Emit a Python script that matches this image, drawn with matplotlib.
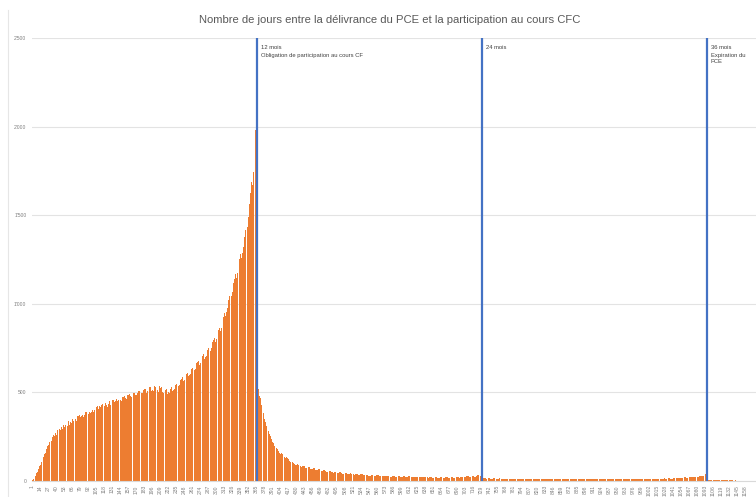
import matplotlib
matplotlib.use("Agg")
import matplotlib.pyplot as plt
import numpy as np

# ---- data: number of participants per day between PCE delivery and CFC course ----
counts_year1 = [
    3, 7, 12, 18, 24, 31, 38, 45, 52, 60, 68, 75, 84, 92,
    100, 108, 117, 125, 133, 141, 150, 160, 170, 178, 186, 196, 204, 212,
    220, 229, 236, 226, 244, 250, 257, 263, 252, 268, 273, 262, 280, 285,
    290, 276, 296, 301, 290, 306, 311, 296, 313, 318, 303, 320, 314, 324,
    326, 311, 330, 336, 318, 341, 333, 346, 327, 350, 342, 336, 356, 347,
    352, 361, 340, 366, 357, 369, 349, 372, 362, 379, 364, 370, 383, 360,
    386, 374, 389, 369, 392, 380, 396, 377, 399, 390, 384, 403, 392, 406,
    398, 387, 411, 400, 413, 394, 419, 405, 421, 409, 399, 426, 414, 418,
    429, 409, 433, 420, 437, 424, 414, 441, 430, 443, 419, 446, 437, 449,
    440, 429, 453, 444, 456, 437, 459, 447, 461, 449, 439, 463, 454, 466,
    457, 444, 469, 459, 471, 454, 473, 464, 476, 459, 479, 469, 481, 464,
    483, 474, 486, 469, 489, 479, 491, 474, 493, 484, 496, 477, 499, 487,
    501, 484, 503, 494, 506, 489, 509, 497, 511, 494, 513, 499, 516, 497,
    519, 503, 521, 499, 523, 509, 526, 504, 529, 511, 531, 507, 533, 514,
    535, 509, 538, 515, 530, 505, 540, 512, 528, 500, 536, 510, 524, 498,
    530, 505, 518, 495, 526, 420, 512, 498, 520, 492, 515, 500, 524, 496,
    519, 503, 528, 507, 522, 512, 535, 518, 540, 524, 548, 530, 556, 537,
    562, 543, 570, 550, 578, 556, 585, 562, 592, 570, 598, 578, 605, 584,
    612, 590, 618, 597, 625, 603, 632, 610, 640, 617, 648, 624, 656, 632,
    664, 640, 672, 648, 680, 655, 688, 664, 696, 672, 705, 680, 714, 690,
    722, 698, 732, 706, 742, 716, 752, 726, 762, 736, 772, 748, 784, 760,
    796, 772, 808, 786, 822, 800, 836, 814, 850, 830, 866, 846, 884, 864,
    904, 884, 926, 906, 950, 930, 976, 954, 1000, 978, 1024, 1002, 1046, 1024,
    1066, 1044, 1090, 1068, 1116, 1094, 1142, 1120, 1170, 1146, 1198, 1172, 1226, 1200,
    1252, 1228, 1280, 1256, 1310, 1286, 1340, 1318, 1375, 1352, 1415, 1392, 1460, 1436,
    1510, 1488, 1565, 1545, 1625, 1608, 1690, 1672, 1760, 1745, 1830, 1920, 1980, 1890,
    1860,
]
counts_year2 = [
    560, 740, 520, 500, 482, 468, 452, 430, 405, 440, 385, 362, 350,
    332, 342, 312, 300, 291, 280, 272, 266, 252, 246, 236, 228, 221, 214,
    210, 198, 200, 186, 188, 176, 180, 168, 172, 160, 165, 154, 158, 147,
    150, 141, 146, 135, 139, 128, 134, 123, 128, 117, 122, 112, 116, 108,
    112, 103, 108, 99, 104, 95, 101, 92, 98, 89, 95, 87, 93, 85,
    91, 83, 89, 81, 87, 79, 85, 77, 83, 76, 81, 74, 80, 72,
    78, 71, 77, 69, 76, 68, 74, 67, 72, 65, 71, 64, 69, 62,
    68, 61, 67, 60, 65, 59, 64, 58, 63, 56, 61, 55, 60, 54,
    59, 53, 58, 52, 57, 51, 56, 50, 55, 49, 54, 48, 53, 47,
    52, 46, 51, 45, 50, 44, 49, 44, 48, 43, 48, 42, 47, 42,
    46, 41, 46, 40, 45, 40, 44, 39, 44, 39, 43, 38, 43, 38,
    42, 37, 42, 37, 41, 36, 41, 36, 40, 35, 40, 35, 39, 34,
    39, 34, 38, 33, 38, 33, 37, 32, 37, 32, 36, 31, 36, 31,
    35, 31, 35, 30, 34, 30, 34, 29, 34, 29, 33, 29, 33, 28,
    33, 28, 32, 28, 32, 27, 32, 27, 31, 27, 31, 27, 31, 26,
    31, 26, 30, 26, 30, 26, 30, 25, 30, 25, 29, 25, 29, 25,
    29, 25, 29, 24, 28, 24, 28, 24, 28, 24, 28, 23, 27, 23,
    27, 23, 27, 23, 27, 22, 26, 22, 26, 22, 26, 22, 26, 22,
    26, 21, 25, 21, 25, 21, 25, 21, 25, 21, 25, 21, 24, 20,
    24, 20, 24, 20, 24, 20, 24, 20, 24, 20, 23, 20, 23, 19,
    23, 19, 23, 19, 23, 19, 23, 19, 22, 19, 22, 19, 22, 19,
    22, 18, 22, 18, 22, 18, 22, 18, 22, 18, 22, 18, 22, 18,
    22, 18, 23, 18, 22, 19, 23, 18, 22, 19, 23, 19, 23, 19,
    23, 19, 24, 19, 23, 20, 24, 19, 24, 20, 24, 20, 25, 20,
    25, 20, 25, 21, 26, 21, 26, 21, 27, 22, 27, 22, 28, 23,
    28, 23, 29, 24, 30, 25, 31, 26, 32, 27, 33, 29, 35, 31,
    38, 36,
]
counts_year3 = [
    17, 15, 16, 14, 16, 15, 17, 14, 16, 15, 16, 14,
    16, 14, 15, 13, 15, 14, 16, 13, 15, 14, 15, 13, 15, 13,
    14, 13, 15, 12, 14, 13, 14, 12, 14, 13, 14, 12, 14, 12,
    13, 12, 14, 11, 13, 12, 13, 11, 13, 12, 13, 11, 13, 11,
    13, 11, 13, 11, 13, 11, 12, 11, 13, 10, 12, 11, 12, 10,
    12, 11, 12, 10, 12, 11, 12, 10, 12, 11, 12, 10, 12, 10,
    12, 10, 12, 10, 12, 10, 11, 10, 12, 10, 11, 10, 12, 9,
    11, 10, 12, 9, 11, 10, 11, 9, 11, 10, 12, 9, 11, 10,
    11, 9, 12, 10, 11, 9, 11, 10, 12, 9, 11, 10, 11, 9,
    12, 10, 11, 9, 11, 10, 12, 9, 11, 10, 11, 9, 12, 10,
    11, 9, 11, 10, 12, 9, 11, 10, 11, 9, 12, 10, 11, 9,
    11, 10, 12, 9, 11, 10, 11, 9, 12, 10, 11, 9, 11, 10,
    12, 9, 11, 10, 11, 9, 12, 10, 11, 9, 11, 10, 12, 9,
    11, 10, 11, 9, 12, 10, 11, 9, 11, 10, 12, 9, 11, 10,
    11, 9, 12, 10, 11, 9, 11, 10, 12, 9, 11, 10, 11, 9,
    12, 10, 11, 9, 11, 10, 12, 9, 11, 10, 11, 9, 12, 10,
    11, 9, 11, 10, 12, 9, 11, 10, 11, 9, 12, 10, 11, 9,
    11, 10, 12, 9, 11, 10, 11, 9, 12, 10, 11, 9, 11, 10,
    12, 9, 11, 10, 11, 9, 12, 10, 11, 9, 11, 10, 12, 9,
    11, 10, 11, 9, 12, 10, 11, 10, 12, 10, 12, 10, 12, 10,
    12, 10, 12, 11, 13, 11, 13, 11, 13, 11, 13, 12, 14, 12,
    14, 12, 14, 12, 15, 12, 15, 13, 15, 13, 16, 13, 16, 14,
    16, 14, 17, 14, 17, 15, 17, 15, 18, 15, 18, 16, 18, 16,
    19, 16, 19, 17, 19, 17, 20, 17, 20, 18, 21, 18, 21, 19,
    22, 19, 22, 20, 23, 20, 23, 21, 24, 21, 25, 22, 25, 23,
    26, 23, 27, 24, 28, 25, 29, 26, 30, 28, 32, 30, 36, 33,
    42, 38, 45,
]
counts_after = [
    6, 5, 6, 5, 5, 6, 5, 5, 4, 5, 5, 4, 5, 4,
    4, 5, 4, 4, 5, 4, 4, 3, 4, 4, 3, 4, 3, 4,
    3, 3, 4, 3, 3, 3, 4, 3, 3, 2, 3, 3, 2, 3,
    2, 3, 2, 2, 3, 2, 2, 2, 3, 2, 2, 2, 1, 2,
    2, 1, 2, 1, 1, 2, 1, 1, 1, 1, 1, 0, 1, 0,
]

counts = counts_year1 + counts_year2 + counts_year3 + counts_after
days = list(range(1, len(counts) + 1))

milestone_days = [365, 730, 1095]
milestone_titles = ["12 mois", "24 mois", "36 mois"]
milestone_notes = ["Obligation de participation au cours CF", "", "Expiration du\nPCE"]

y_ticks = [0, 500, 1000, 1500, 2000, 2500]
x_label_step = 13

title = "Nombre de jours entre la délivrance du PCE et la participation au cours CFC"

# ---- figure ----
W, H = 756, 497
fig = plt.figure(figsize=(W / 100, H / 100), dpi=100)
ax = fig.add_axes([32 / W, 1 - 481 / H, 724 / W, (481 - 38) / H])

ax.bar(days, counts, width=0.88, color="#ED7D31", linewidth=0, zorder=2,
       antialiased=False)
ax.vlines(milestone_days, 0, y_ticks[-1], colors="#4472C4", linewidth=1.6, zorder=3)

for d, t, n in zip(milestone_days, milestone_titles, milestone_notes):
    ax.annotate(t, xy=(d, y_ticks[-1]), xytext=(3, -7), textcoords="offset points",
                fontsize=4.2, color="#404040", va="center", ha="left",
                family="Liberation Sans", annotation_clip=False)
    if n:
        ax.annotate(n, xy=(d, y_ticks[-1]), xytext=(3, -10.5), textcoords="offset points",
                    fontsize=4.2, color="#404040", va="top", ha="left",
                    family="Liberation Sans", annotation_clip=False,
                    linespacing=1.3)

ax.set_xlim(0.5, 0.5 + 724 / 0.6164)
ax.set_ylim(0, y_ticks[-1])
ax.set_yticks(y_ticks)
ax.set_yticklabels([f"{v:,}".replace(",", "'") for v in y_ticks],
                   fontsize=3.6, color="#7F7F7F", family="Liberation Sans")
ax.tick_params(axis="y", length=0, pad=4)

xt = days[::x_label_step]
ax.set_xticks(xt)
ax.set_xticklabels([str(d) for d in xt], rotation=90, fontsize=3.6,
                   color="#7F7F7F", family="Liberation Sans")
ax.tick_params(axis="x", length=0, pad=3)

ax.grid(axis="y", color="#E3E3E3", linewidth=0.8, zorder=0)
ax.set_axisbelow(True)
for s in ["top", "right", "left"]:
    ax.spines[s].set_visible(False)
ax.spines["bottom"].set_color("#D9D9D9")
ax.spines["bottom"].set_linewidth(0.8)

fig.text(390 / W, 1 - 20 / H, title, ha="center", va="center",
         fontsize=8.1, color="#595959", family="Liberation Sans")

# chart-area border on the left
fig.add_artist(plt.Line2D([8 / W, 8 / W], [0, 1 - 10 / H], transform=fig.transFigure,
                          color="#E6E6E6", linewidth=0.8))

fig.savefig("out.png", dpi=100)
